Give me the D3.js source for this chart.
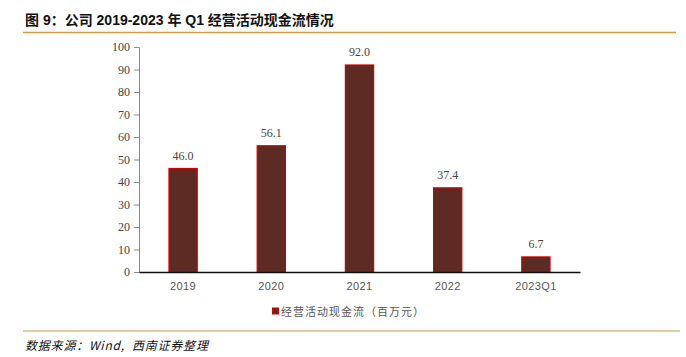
<!DOCTYPE html>
<html><head><meta charset="utf-8">
<script src="https://cdn.jsdelivr.net/npm/d3@7"></script>
<style>body{margin:0;background:#fff}</style>
</head><body>
<svg id="c" width="686" height="357"></svg>
<script>
const categories = ["2019","2020","2021","2022","2023Q1"];
const values = [46.0, 56.1, 92.0, 37.4, 6.7];
const yTicks = [0,10,20,30,40,50,60,70,80,90,100];
const seriesName = "经营活动现金流（百万元）";
const title = "图 9：公司 2019-2023 年 Q1 经营活动现金流情况";
const source = "数据来源：Wind,  西南证券整理";

const svg = d3.select("#c");
const cjk = "'Noto Sans CJK SC', sans-serif";

svg.append("text").attr("x", 25).attr("y", 25)
  .style("font-family", "'Liberation Sans', 'Noto Sans CJK SC', sans-serif")
  .style("font-weight", "bold").style("font-size", "14px").attr("fill", "#111")
  .text(title);
svg.append("line").attr("x1", 23).attr("x2", 676).attr("y1", 32.5).attr("y2", 32.5)
  .attr("stroke", "#d29a4a").attr("stroke-width", 1.5);

const x = d3.scaleBand().domain(categories).range([139, 580]).paddingInner(0.68).paddingOuter(0.34);
const y = d3.scaleLinear().domain([0, 100]).range([272, 47]);

const yAxis = svg.append("g").attr("transform", "translate(139,0)")
  .call(d3.axisLeft(y).tickValues(yTicks).tickSize(5).tickPadding(4));
yAxis.select(".domain").attr("stroke", "#888");
yAxis.selectAll(".tick line").attr("stroke", "#888");
yAxis.selectAll("text").style("font-family", "'Liberation Serif', serif").style("font-size", "12px").attr("fill", "#444");

svg.selectAll("rect.bar").data(values).enter().append("rect").attr("class", "bar")
  .attr("x", (d, i) => x(categories[i]))
  .attr("y", d => y(d))
  .attr("width", x.bandwidth())
  .attr("height", d => y(0) - y(d))
  .attr("fill", "#5e2a24").attr("stroke", "#d00000").attr("stroke-width", 1.2);

svg.selectAll("text.lbl").data(values).enter().append("text").attr("class", "lbl")
  .attr("x", (d, i) => x(categories[i]) + x.bandwidth() / 2)
  .attr("y", d => y(d) - 9)
  .attr("text-anchor", "middle")
  .style("font-family", "'Liberation Serif', serif").style("font-size", "12px").attr("fill", "#444")
  .text(d => d.toFixed(1));

const xAxis = svg.append("g").attr("transform", "translate(0,272)")
  .call(d3.axisBottom(x).tickSize(0).tickPadding(10));
xAxis.select(".domain").attr("stroke", "#111").attr("stroke-width", 1.5);
xAxis.selectAll("text").style("font-family", "'Liberation Sans', sans-serif").style("font-size", "11px")
  .style("letter-spacing", "0.4px").attr("fill", "#555");

const lg = svg.append("g").attr("transform", "translate(272,312)");
lg.append("rect").attr("x", 0.5).attr("y", -4).attr("width", 6).attr("height", 6)
  .attr("fill", "#5e2a24").attr("stroke", "#d00000").attr("stroke-width", 1);
lg.append("text").attr("x", 9).attr("y", 4)
  .style("font-family", cjk).style("font-size", "11px").style("letter-spacing", "1px").attr("fill", "#555")
  .text(seriesName);

svg.append("line").attr("x1", 23).attr("x2", 680).attr("y1", 331).attr("y2", 331)
  .attr("stroke", "#d8b88a").attr("stroke-width", 1.5);
svg.append("text").attr("x", 25).attr("y", 350).attr("xml:space", "preserve")
  .style("white-space", "pre")
  .style("font-family", cjk).style("font-style", "italic").style("font-size", "12px")
  .style("letter-spacing", "0.8px").attr("fill", "#111")
  .text(source);
</script>
</body></html>
